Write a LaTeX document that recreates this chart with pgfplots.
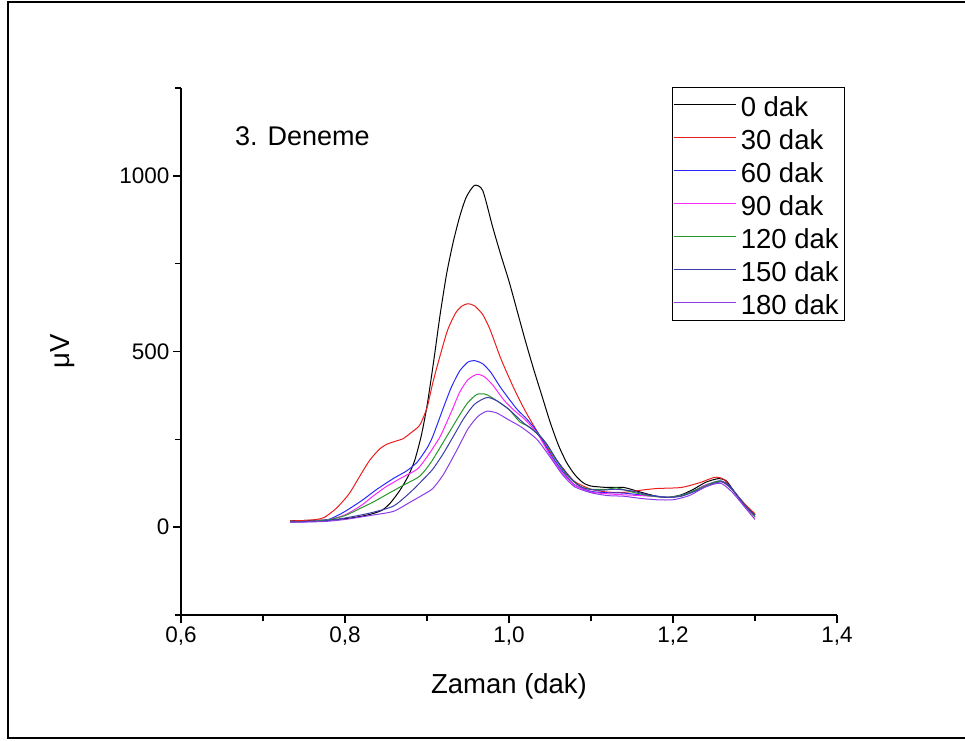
\documentclass[border=0pt]{standalone}
\usepackage{pgfplots}
\pgfplotsset{compat=1.18}
\usepackage{fontspec}
\setmainfont{Liberation Sans}
\definecolor{cred}{RGB}{235,30,30}
\definecolor{cblue}{RGB}{40,40,250}
\definecolor{cmag}{RGB}{250,40,250}
\definecolor{cgreen}{RGB}{40,150,40}
\definecolor{cnavy}{RGB}{60,60,170}
\definecolor{cviol}{RGB}{140,60,230}
\begin{document}
\begin{tikzpicture}
\useasboundingbox (0pt,0pt) rectangle (965pt,740pt);
\draw[line width=2pt] (966pt,2.5pt) -- (7.5pt,2.5pt) -- (7.5pt,737.5pt) -- (966pt,737.5pt);
\node[anchor=base west, font=\fontsize{27}{27}\selectfont, inner sep=0pt] at (235pt,594pt) {3. Deneme};
\begin{axis}[
  at={(181pt,125pt)}, anchor=south west,
  scale only axis, width=656pt, height=527pt,
  xmin=0.6, xmax=1.4, ymin=-250, ymax=1250,
  axis x line*=bottom, axis y line*=left,
  axis line style={line width=1.5pt,-},
  xtick={0.6,0.8,1.0,1.2,1.4},
  minor xtick={0.7,0.9,1.1,1.3},
  ytick={0,500,1000}, minor ytick={-250,250,750,1250},
  tick align=outside, major tick length=8pt, minor tick length=6pt,
  every tick/.style={line width=1.5pt, black},
  /pgf/number format/assume math mode=true,
  xticklabel style={/pgf/number format/.cd, fixed, fixed zerofill, precision=1, use comma},
  yticklabel style={/pgf/number format/.cd, 1000 sep={}},
  ticklabel style={font=\fontsize{22.5}{22.5}\selectfont},
  xlabel={Zaman (dak)}, ylabel={μV},
  label style={font=\fontsize{27.5}{27.5}\selectfont},
  xlabel style={at={(axis description cs:0.5,-0.135)}, anchor=center},
  ylabel style={at={(axis description cs:-0.181,0.5)}, anchor=center},
  legend style={at={(0.748,1.002)}, anchor=north west, line width=0.8pt,
    font=\fontsize{27.5}{27.5}\selectfont, row sep=0pt, inner sep=1pt,
    nodes={text height=24pt, text depth=0pt, inner sep=4.5pt},
    cells={anchor=west}},
  legend image code/.code={\draw[#1, line width=1.2pt] (0pt,0pt) -- (62pt,0pt);},
  every axis plot/.append style={line width=1pt, smooth, tension=0.4},
]
\addplot[draw=black] coordinates {
(0.733,18)(0.75,19)(0.77,20)(0.79,22)(0.81,27)(0.83,36)(0.845,48)(0.855,68)(0.867,105)(0.877,145)
(0.885,190)(0.893,260)(0.900,345)(0.908,470)(0.916,605)(0.924,722)(0.932,812)(0.940,885)(0.948,940)
(0.958,973)(0.968,958)(0.980,855)(0.990,775)(1.000,700)(1.010,615)(1.020,530)(1.030,450)(1.040,375)
(1.050,300)(1.060,235)(1.070,185)(1.080,150)(1.090,127)(1.100,117)(1.120,113)(1.140,113)(1.160,100)(1.180,88)
(1.195,85)(1.210,92)(1.225,108)(1.240,128)(1.255,138)(1.265,132)(1.275,100)(1.285,70)(1.300,35)};
\addlegendentry{0 dak}
\addplot[draw=cred] coordinates {
(0.733,18)(0.75,19)(0.765,22)(0.775,28)(0.790,55)(0.805,95)(0.818,145)(0.830,190)(0.842,222)(0.851,236)
(0.862,245)(0.871,252)(0.880,268)(0.891,290)(0.900,340)(0.907,410)(0.915,480)(0.925,560)(0.935,610)
(0.943,630)(0.950,636)(0.958,630)(0.968,605)(0.977,562)(0.990,480)(1.005,400)(1.020,330)(1.038,258)
(1.050,215)(1.065,170)(1.080,130)(1.100,108)(1.120,100)(1.140,99)(1.160,105)(1.180,110)(1.210,113)
(1.233,127)(1.251,142)(1.262,136)(1.275,100)(1.288,65)(1.300,38)};
\addlegendentry{30 dak}
\addplot[draw=cblue] coordinates {
(0.733,15)(0.76,17)(0.78,22)(0.798,42)(0.82,75)(0.839,108)(0.860,140)(0.875,160)(0.888,185)(0.900,225)
(0.907,258)(0.920,340)(0.930,400)(0.940,445)(0.950,470)(0.958,474)(0.968,465)(0.978,440)(0.989,400)
(1.000,365)(1.010,335)(1.022,307)(1.035,270)(1.050,210)(1.065,160)(1.080,120)(1.100,102)(1.120,98)
(1.140,97)(1.160,92)(1.180,88)(1.200,85)(1.220,98)(1.240,120)(1.258,132)(1.270,115)(1.285,70)(1.300,30)};
\addlegendentry{60 dak}
\addplot[draw=cmag] coordinates {
(0.733,15)(0.76,17)(0.78,21)(0.80,35)(0.82,62)(0.834,88)(0.850,115)(0.870,142)(0.888,165)(0.900,200)
(0.916,258)(0.930,330)(0.940,385)(0.950,420)(0.961,435)(0.970,428)(0.980,405)(0.993,364)(1.005,335)
(1.020,305)(1.035,265)(1.050,205)(1.065,155)(1.080,120)(1.100,100)(1.120,95)(1.140,92)(1.160,90)
(1.180,87)(1.200,85)(1.220,97)(1.240,120)(1.258,130)(1.270,112)(1.285,68)(1.300,28)};
\addlegendentry{90 dak}
\addplot[draw=cgreen] coordinates {
(0.733,15)(0.76,17)(0.78,21)(0.80,33)(0.82,55)(0.834,71)(0.850,92)(0.870,118)(0.891,145)(0.905,185)
(0.924,258)(0.940,320)(0.950,355)(0.961,378)(0.972,378)(0.985,360)(1.000,335)(1.013,300)(1.025,285)
(1.040,255)(1.055,200)(1.070,150)(1.085,118)(1.100,108)(1.120,108)(1.131,112)(1.150,100)(1.170,90)
(1.190,85)(1.210,90)(1.230,108)(1.250,128)(1.260,130)(1.272,108)(1.285,70)(1.300,30)};
\addlegendentry{120 dak}
\addplot[draw=cnavy] coordinates {
(0.733,15)(0.76,16)(0.78,19)(0.80,26)(0.83,40)(0.859,60)(0.880,100)(0.895,135)(0.907,165)(0.920,210)
(0.932,258)(0.945,310)(0.958,350)(0.973,369)(0.985,360)(1.000,335)(1.017,298)(1.030,275)(1.045,240)
(1.060,185)(1.075,140)(1.090,112)(1.110,105)(1.130,108)(1.150,103)(1.170,92)(1.190,85)(1.210,88)
(1.230,105)(1.250,125)(1.262,128)(1.275,100)(1.290,55)(1.300,35)};
\addlegendentry{150 dak}
\addplot[draw=cviol] coordinates {
(0.733,14)(0.76,15)(0.78,17)(0.80,22)(0.83,33)(0.859,45)(0.880,72)(0.895,92)(0.907,110)(0.920,150)
(0.937,222)(0.950,280)(0.962,315)(0.973,330)(0.985,325)(1.000,305)(1.015,285)(1.034,250)(1.050,200)
(1.065,150)(1.080,115)(1.100,98)(1.120,90)(1.140,88)(1.160,82)(1.180,78)(1.200,78)(1.220,90)
(1.240,115)(1.258,125)(1.272,100)(1.290,50)(1.300,22)};
\addlegendentry{180 dak}
\end{axis}
\end{tikzpicture}
\end{document}
